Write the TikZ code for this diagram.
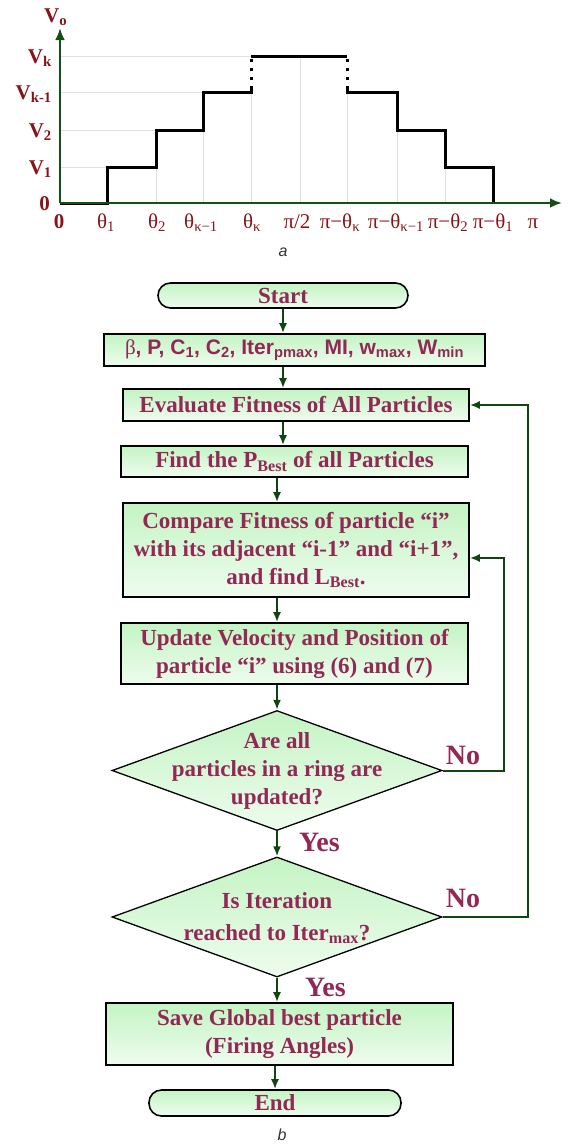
\documentclass[tikz,border=0pt]{standalone}
\usepackage{fontspec}
\setmainfont{Liberation Serif}
\setsansfont{Liberation Sans}
\usepackage{xcolor}
\usetikzlibrary{arrows.meta,shapes.geometric,positioning}

\definecolor{axisgreen}{RGB}{20,80,20}
\definecolor{flowgreen}{RGB}{15,70,15}
\definecolor{lblred}{RGB}{135,20,25}
\definecolor{txtred}{RGB}{145,40,85}
\definecolor{boxtop}{RGB}{196,244,196}
\definecolor{boxbot}{RGB}{238,252,238}
\newcommand{\lowtxt}[1]{\textsubscript{#1}}

\begin{document}
\begin{tikzpicture}[x=1pt, y=-1pt,
  procbox/.style={draw, line width=1.6pt, top color=boxtop, bottom color=boxbot, text=txtred,
    font=\bfseries\fontsize{23}{28}\selectfont, align=center, inner sep=1pt},
  termbox/.style={procbox, rounded corners=12.5pt},
  decision/.style={draw, diamond, line width=1.3pt, top color=boxtop, bottom color=boxbot,
    minimum width=330pt, minimum height=120pt, inner sep=0pt},
  dtext/.style={text=txtred, font=\bfseries\fontsize{23}{28}\selectfont, align=center},
  yesno/.style={text=txtred, font=\bfseries\fontsize{28}{30}\selectfont, inner sep=0pt},
  arr/.style={draw=flowgreen, line width=2pt, -{Latex[length=10pt,width=8pt]}},
  axis/.style={draw=axisgreen, line width=2.6pt, -{Latex[length=12pt,width=10pt]}},
  wave/.style={line width=3pt},
  gridln/.style={draw=black!12, line width=0.7pt},
  vlbl/.style={text=lblred, font=\bfseries\fontsize{21}{24}\selectfont, inner sep=0pt},
  tlbl/.style={text=lblred, font=\fontsize{21}{24}\selectfont, inner sep=0pt, anchor=base},
  caption/.style={text=black!80, font=\sffamily\itshape\fontsize{16}{18}\selectfont}]
\useasboundingbox (0,0) rectangle (571,1144);

% waveform (a)
\draw[gridln] (60,167) -- (107,167) (60,130) -- (156,130) (60,92) -- (203,92) (60,56) -- (251,56);
\draw[gridln] (156,203) -- (156,167) (203,203) -- (203,130) (251,203) -- (251,92) (300,203) -- (300,56)
  (347,203) -- (347,92) (397,203) -- (397,130) (445,203) -- (445,167);
\draw[wave] (60,203) -- (107,203) -- (107,167) -- (156,167) -- (156,130) -- (203,130) -- (203,92) -- (251,92) -- (251,86);
\draw[wave] (251,56) -- (347,56);
\draw[wave] (347,86) -- (347,92) -- (397,92) -- (397,130) -- (445,130) -- (445,167) -- (493,167) -- (493,203);
\draw[wave, dash pattern=on 3pt off 6pt] (251,80) -- (251,56) (347,80) -- (347,56);
\draw[axis] (60,203) -- (562,203);
\draw[axis] (60,203) -- (60,28);

\node[vlbl, anchor=base west] (vo) at (44,22) {V\lowtxt{o}};
\node[vlbl, anchor=base east] (vk) at (52,63) {V\lowtxt{k}};
\node[vlbl, anchor=base east] (vk1) at (52,99) {V\lowtxt{k-1}};
\node[vlbl, anchor=base east] (v2) at (52,137) {V\lowtxt{2}};
\node[vlbl, anchor=base east] (v1) at (52,174) {V\lowtxt{1}};
\node[vlbl, anchor=base east] (v0) at (50,210) {0};

\node[tlbl, font=\bfseries\fontsize{21}{24}\selectfont] (t0) at (59,228) {0};
\node[tlbl] (t1) at (106,228) {θ\lowtxt{1}};
\node[tlbl] (t2) at (157,228) {θ\lowtxt{2}};
\node[tlbl] (t3) at (201,228) {θ\lowtxt{κ−1}};
\node[tlbl] (t4) at (252,228) {θ\lowtxt{κ}};
\node[tlbl] (t5) at (297,228) {π/2};
\node[tlbl] (t6) at (340,228) {π−θ\lowtxt{κ}};
\node[tlbl] (t7) at (396,228) {π−θ\lowtxt{κ−1}};
\node[tlbl] (t8) at (448,228) {π−θ\lowtxt{2}};
\node[tlbl] (t9) at (493,228) {π−θ\lowtxt{1}};
\node[tlbl] (t10) at (533,228) {π};
\node[caption] (capa) at (283,252) {a};

% flowchart (b)
\node[termbox, minimum width=250pt, minimum height=25pt] (start) at (283,295.5) {Start};
\node[procbox, minimum width=381pt, minimum height=32pt, below of=start, node distance=54.5pt, xshift=11.5pt,
  font=\sffamily\bfseries\fontsize{21}{24}\selectfont] (params)
  {{\rmfamily\mdseries β}, P, C\lowtxt{1}, C\lowtxt{2}, Iter\lowtxt{pmax}, MI, w\lowtxt{max}, W\lowtxt{min}};
\node[procbox, minimum width=346pt, minimum height=32pt, below of=params, node distance=55pt, xshift=1.5pt] (eval)
  {Evaluate Fitness of All Particles};
\node[procbox, minimum width=347pt, minimum height=31pt, below of=eval, node distance=56.5pt, xshift=-1.5pt] (find)
  {Find the P\lowtxt{Best} of all Particles};
\node[procbox, minimum width=346pt, minimum height=94pt, below of=find, node distance=88.5pt, xshift=1.5pt] (compare)
  {Compare Fitness of particle “i”\\with its adjacent “i-1” and “i+1”,\\and find L\lowtxt{Best}.};
\node[procbox, minimum width=347pt, minimum height=61pt, below of=compare, node distance=103.5pt, xshift=-1.5pt] (update)
  {Update Velocity and Position of\\particle “i” using (6) and (7)};
\node[decision, below of=update, node distance=117pt, xshift=-17.5pt] (d1) {};
\node[dtext] (d1txt) at (d1) {Are all\\particles in a ring are\\updated?};
\node[decision, below of=d1, node distance=146.5pt] (d2) {};
\node[dtext] (d2txt) at ([yshift=-1pt]d2) {Is Iteration\\[4pt]reached to Iter\lowtxt{max}?};
\node[procbox, minimum width=347pt, minimum height=62pt, below of=d2, node distance=117pt, xshift=2.5pt] (save)
  {Save Global best particle\\(Firing Angles)};
\node[termbox, minimum width=252pt, minimum height=26pt, below of=save, node distance=69pt, xshift=-4.5pt] (end) {End};
\node[caption] (capb) at (282,1135) {b};

\coordinate (inr) at (504,770);
\coordinate (outr) at (528,917);

\draw[arr] (start) -- (start |- params.north);
\draw[arr] (params.south -| start) -- (eval.north -| start);
\draw[arr] (eval.south -| start) -- (find.north -| start);
\draw[arr] (find.south -| d1) -- (compare.north -| d1);
\draw[arr] (compare.south -| d1) -- (update.north -| d1);
\draw[arr] (update.south -| d1) -- (d1);
\draw[arr] (d1) -- (d2);
\draw[arr] (d2) -- (save.north -| d2);
\draw[arr] (save.south -| end) -- (end);
\draw[arr] (d1.east) -- (d1.east -| inr) |- ([yshift=-8pt]compare.east);
\draw[arr] (d2.east) -- (d2.east -| outr) |- (eval.east);

\node[yesno, above right=6pt and 3pt of d1.east] (no1) {No};
\node[yesno, above right=9pt and 3pt of d2.east] (no2) {No};
\node[yesno, below right=2pt and 22pt of d1.south] (yes1) {Yes};
\node[yesno, below right=0pt and 28pt of d2.south] (yes2) {Yes};
\end{tikzpicture}
\end{document}
